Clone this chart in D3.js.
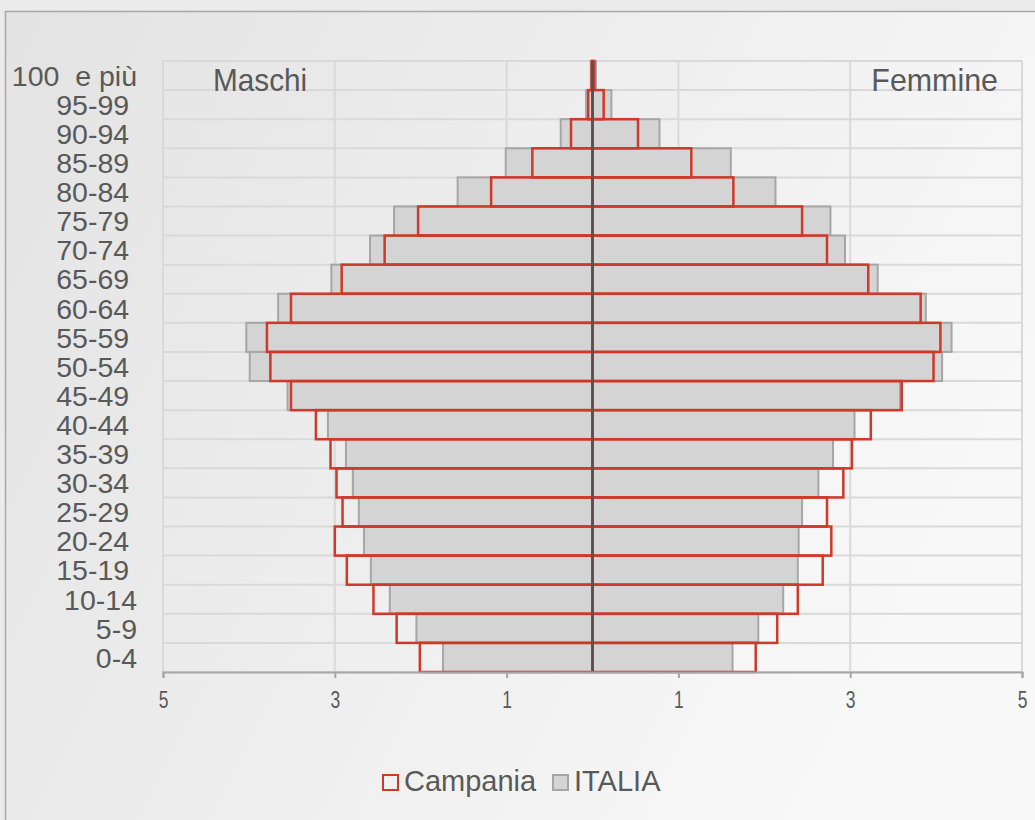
<!DOCTYPE html>
<meta charset="utf-8">
<style>
body { margin: 0; background: #ebebeb; }
text { font-family: "Liberation Sans", Arial, sans-serif; fill: #595959; }
.ylab text { white-space: pre; }
</style>
<svg width="1035" height="820"></svg>
<script src="https://cdn.jsdelivr.net/npm/d3@7/dist/d3.min.js"></script>
<script>

// age classes, top to bottom (some labels carry a trailing space, as in the source sheet)
var ages = ["100  e più", "95-99 ", "90-94 ", "85-89 ", "80-84 ", "75-79 ", "70-74 ", "65-69 ",
            "60-64 ", "55-59 ", "50-54 ", "45-49 ", "40-44 ", "35-39 ", "30-34 ", "25-29 ",
            "20-24 ", "15-19 ", "10-14", "5-9", "0-4"];

// % of total population
var campaniaM = [0.01, 0.05, 0.25, 0.70, 1.18, 2.03, 2.42, 2.92, 3.51, 3.79, 3.75,
                 3.51, 3.22, 3.05, 2.98, 2.91, 3.00, 2.86, 2.55, 2.28, 2.01];
var campaniaF = [0.02, 0.13, 0.53, 1.15, 1.64, 2.44, 2.73, 3.21, 3.82, 4.05, 3.97,
                 3.60, 3.24, 3.02, 2.92, 2.73, 2.78, 2.68, 2.39, 2.15, 1.90];
var italiaM   = [0.02, 0.075, 0.37, 1.01, 1.57, 2.31, 2.59, 3.04, 3.66, 4.03, 3.99,
                 3.55, 3.08, 2.87, 2.79, 2.72, 2.66, 2.58, 2.36, 2.05, 1.74];
var italiaF   = [0.04, 0.22, 0.78, 1.61, 2.13, 2.77, 2.94, 3.32, 3.88, 4.18, 4.07,
                 3.58, 3.05, 2.80, 2.63, 2.44, 2.40, 2.39, 2.22, 1.93, 1.63];

var xTicks = [-5, -3, -1, 1, 3, 5];
var seriesNames = ["Campania", "ITALIA"];

var svg = d3.select("svg");

var defs = svg.append("defs");
var grad = defs.append("linearGradient").attr("id", "bg")
    .attr("x1", "0%").attr("y1", "0%").attr("x2", "100%").attr("y2", "40%");
grad.append("stop").attr("offset", "0%").attr("stop-color", "#e3e3e3");
grad.append("stop").attr("offset", "100%").attr("stop-color", "#f8f8f8");

// chart frame
svg.append("rect")
    .attr("x", 5.5).attr("y", 11.5).attr("width", 1040).attr("height", 820)
    .attr("fill", "url(#bg)")
    .attr("stroke", "#a8a8a8").attr("stroke-width", 1.5);

var pLeft = 163, pRight = 1022, pTop = 61, pBottom = 672;

var x = d3.scaleLinear().domain([-5, 5]).range([pLeft, pRight]);
var y = d3.scaleBand().domain(ages).range([pTop, pBottom]).padding(0);

// gridlines
var grid = svg.append("g");
grid.selectAll("line.h")
    .data(d3.range(ages.length + 1))
    .enter().append("line")
    .attr("class", "h")
    .attr("x1", pLeft).attr("x2", pRight)
    .attr("y1", function(i) { return pTop + i * y.bandwidth(); })
    .attr("y2", function(i) { return pTop + i * y.bandwidth(); })
    .attr("stroke", "#d9d9d9").attr("stroke-width", 2);
grid.selectAll("line.v")
    .data(xTicks)
    .enter().append("line")
    .attr("class", "v")
    .attr("x1", function(d) { return x(d); }).attr("x2", function(d) { return x(d); })
    .attr("y1", pTop).attr("y2", pBottom)
    .attr("stroke", "#d9d9d9").attr("stroke-width", 2);

function bars(g, vals, side, cls) {
  return g.selectAll("rect." + cls)
    .data(vals)
    .enter().append("rect")
    .attr("class", cls)
    .attr("x", function(d) { return side < 0 ? x(-d) : x(0); })
    .attr("width", function(d) { return side < 0 ? x(0) - x(-d) : x(d) - x(0); })
    .attr("y", function(d, i) { return y(ages[i]); })
    .attr("height", y.bandwidth());
}

// ITALIA: filled grey
var gIt = svg.append("g").attr("fill", "#d4d4d4").attr("stroke", "#a6a6a6").attr("stroke-width", 2);
bars(gIt, italiaM, -1, "im");
bars(gIt, italiaF, 1, "if");

// Campania: red outline
var gCa = svg.append("g").attr("fill", "none").attr("stroke", "#d0382a").attr("stroke-width", 2.5);
bars(gCa, campaniaM, -1, "cm");
bars(gCa, campaniaF, 1, "cf");

// central axis
svg.append("line")
    .attr("x1", x(0)).attr("x2", x(0)).attr("y1", pTop).attr("y2", pBottom)
    .attr("stroke", "#5e4e4c").attr("stroke-width", 2.5);

// bottom axis
var xAxis = svg.append("g")
    .attr("transform", "translate(0," + pBottom + ")")
    .call(d3.axisBottom(x).tickValues(xTicks).tickSize(6).tickPadding(14)
      .tickFormat(function(d) { return Math.abs(d); }));
xAxis.attr("font-size", 23);
xAxis.select(".domain").attr("stroke", "#a6a6a6").attr("stroke-width", 2);
xAxis.selectAll(".tick line").attr("stroke", "#a6a6a6").attr("stroke-width", 2);
xAxis.selectAll("text").attr("fill", null).attr("transform", "scale(0.76,1)");

// age labels
var yAxis = svg.append("g")
    .attr("class", "ylab")
    .attr("transform", "translate(" + pLeft + ",0)")
    .call(d3.axisLeft(y).tickSize(0).tickPadding(26));
yAxis.attr("font-size", 28.5);
yAxis.select(".domain").remove();
yAxis.selectAll("text").attr("dy", "0.36em").attr("fill", null);

// side titles
svg.append("text").attr("x", 213).attr("y", 91).attr("font-size", 32)
    .attr("transform", "translate(213,0) scale(0.93,1) translate(-213,0)")
    .text("Maschi");
svg.append("text").attr("x", 998).attr("y", 91).attr("font-size", 32).attr("text-anchor", "end")
    .attr("transform", "translate(998,0) scale(0.95,1) translate(-998,0)")
    .text("Femmine");

// legend
var legend = svg.append("g").attr("transform", "translate(382,774)");
var li = legend.selectAll("g").data(seriesNames).enter().append("g")
    .attr("transform", function(d, i) { return "translate(" + (i * 170) + ",0)"; });
li.append("rect").attr("x", 1).attr("y", 1).attr("width", 15).attr("height", 15)
    .attr("fill", function(d, i) { return i ? "#d4d4d4" : "none"; })
    .attr("stroke", function(d, i) { return i ? "#a6a6a6" : "#d0382a"; })
    .attr("stroke-width", 2);
li.append("text").attr("x", 22).attr("y", 17).attr("font-size", 29)
    .text(function(d) { return d; });

</script>
